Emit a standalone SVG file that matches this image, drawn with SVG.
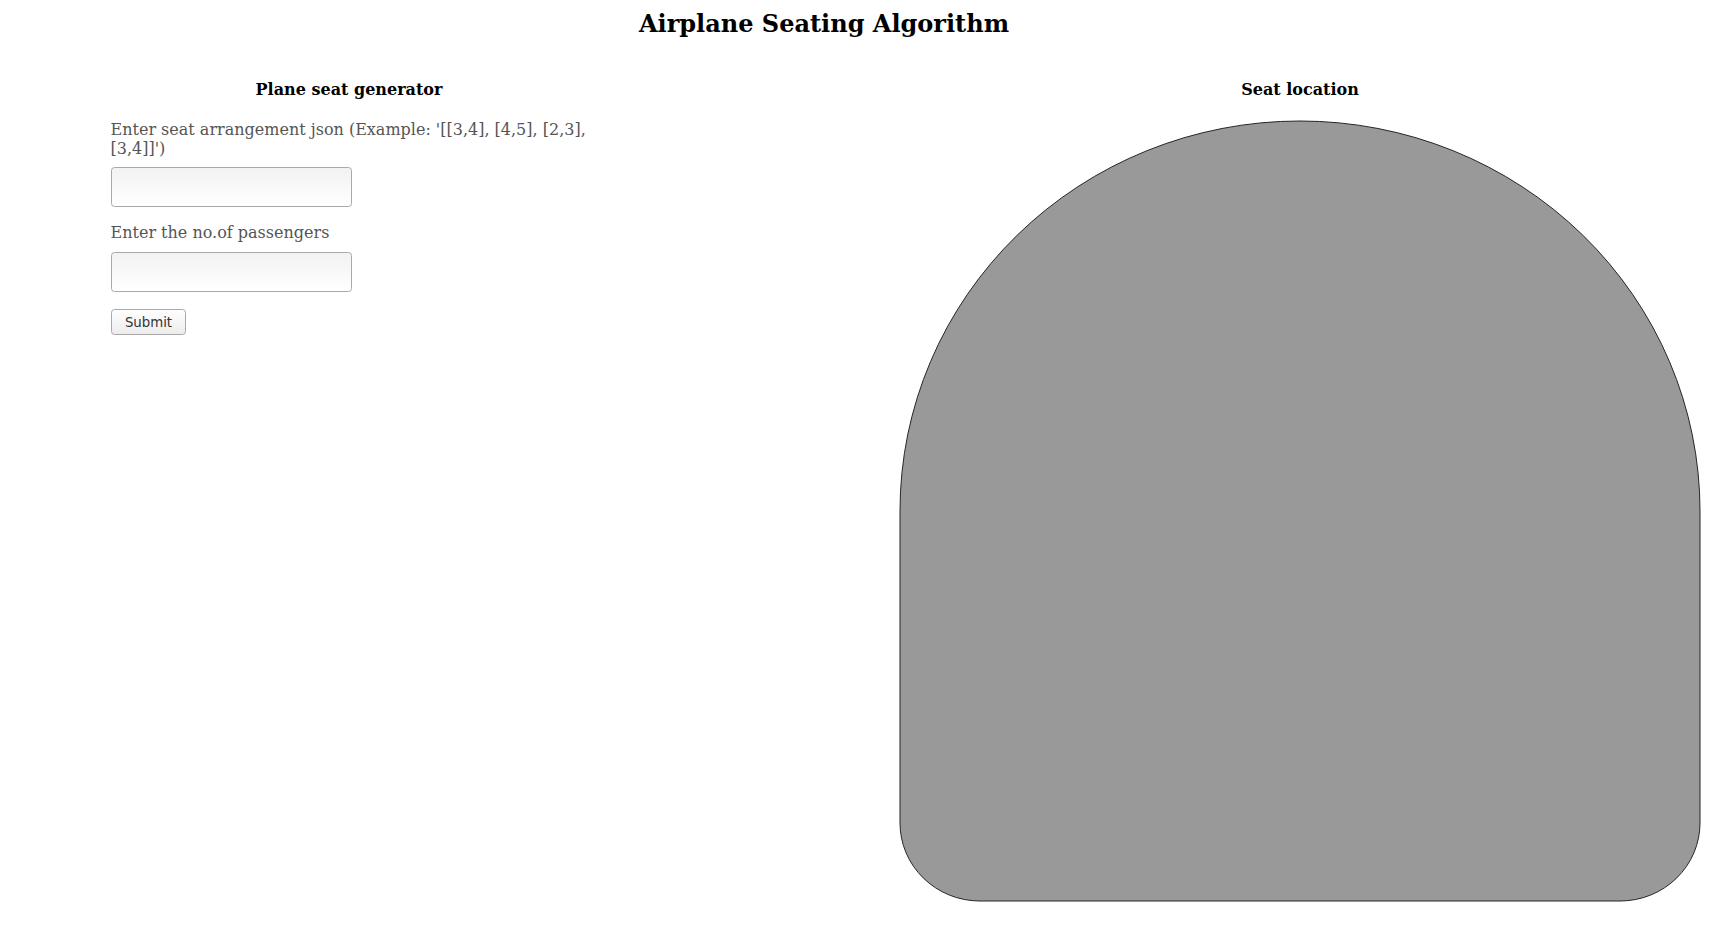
<svg xmlns="http://www.w3.org/2000/svg" width="1736" height="942" viewBox="0 0 1736 942">
<style>
.title{font-family:"DejaVu Serif","Liberation Serif",serif;font-weight:bold;font-size:24px;fill:#000}
.head{font-family:"DejaVu Serif","Liberation Serif",serif;font-weight:bold;font-size:16px;fill:#000}
.lbl{font-family:"DejaVu Serif","Liberation Serif",serif;font-size:16px;fill:#555}
.btn{font-family:"DejaVu Sans","Liberation Sans",sans-serif;font-size:13.3px;fill:#333}
.input{fill:url(#ig);stroke:#a9a9a9;stroke-width:1}
</style>
<defs>
<linearGradient id="ig" x1="0" y1="0" x2="0" y2="1">
<stop offset="0" stop-color="#f2f2f2"/>
<stop offset="1" stop-color="#ffffff"/>
</linearGradient>
<linearGradient id="bg" x1="0" y1="0" x2="0" y2="1">
<stop offset="0" stop-color="#ffffff"/>
<stop offset="1" stop-color="#ececec"/>
</linearGradient>
</defs>
<rect width="1736" height="942" fill="#fff"/>
<g id="title"><text class="title" x="824" y="32" text-anchor="middle">Airplane Seating Algorithm</text></g>
<g id="form">
<text class="head" x="349" y="95" text-anchor="middle">Plane seat generator</text>
<text class="lbl" x="110.5" y="135">Enter seat arrangement json (Example: '[[3,4], [4,5], [2,3],</text>
<text class="lbl" x="110.5" y="154">[3,4]]')</text>
<rect id="input1" class="input" x="111.5" y="167.5" width="240" height="39" rx="3"/>
<text class="lbl" x="110.5" y="238">Enter the no.of passengers</text>
<rect id="input2" class="input" x="111.5" y="252.5" width="240" height="39" rx="3"/>
<g id="submit">
<rect x="111.5" y="309.5" width="74" height="25" rx="3" fill="url(#bg)" stroke="#a9a9a9"/>
<text class="btn" x="148.5" y="327" text-anchor="middle">Submit</text>
</g>
</g>
<g id="seat">
<text class="head" x="1300" y="95" text-anchor="middle">Seat location</text>
<path id="plane" d="M 900 511 A 400 390 0 0 1 1700 511 L 1700 823 A 80 78 0 0 1 1620 901 L 980 901 A 80 78 0 0 1 900 823 Z" fill="#999" stroke="#2a2326" stroke-width="1"/>
</g>
<g id="connectors"/>
</svg>
